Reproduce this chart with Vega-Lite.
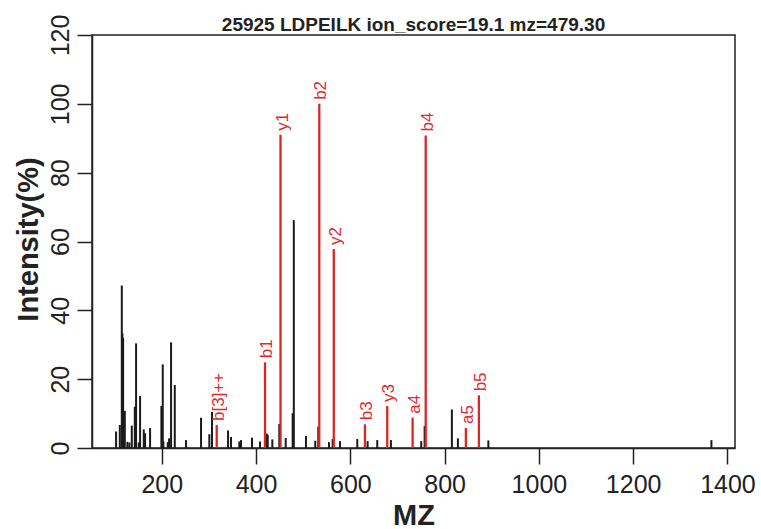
{
  "$schema": "https://vega.github.io/schema/vega-lite/v6.json",
  "autosize": "none",
  "width": 643,
  "height": 413,
  "padding": {"left": 92, "top": 35, "right": 26, "bottom": 81},
  "background": "white",
  "config": {
    "font": "Liberation Sans",
    "view": {"stroke": "#222222", "strokeWidth": 1.5}
  },
  "title": {
    "text": "25925 LDPEILK ion_score=19.1 mz=479.30",
    "font": "Liberation Sans",
    "fontSize": 19,
    "fontWeight": "bold",
    "color": "#222222",
    "anchor": "middle",
    "baseline": "alphabetic",
    "offset": 7,
    "dy": 43
  },
  "datasets": {
    "peaks": [
      {"mz": 103.1, "inten": 4.8, "ion": ""},
      {"mz": 111.0, "inten": 6.7, "ion": ""},
      {"mz": 115.2, "inten": 47.2, "ion": ""},
      {"mz": 116.5, "inten": 33.3, "ion": ""},
      {"mz": 118.0, "inten": 32.0, "ion": ""},
      {"mz": 121.6, "inten": 10.8, "ion": ""},
      {"mz": 127.1, "inten": 1.8, "ion": ""},
      {"mz": 131.3, "inten": 1.6, "ion": ""},
      {"mz": 136.4, "inten": 6.5, "ion": ""},
      {"mz": 142.8, "inten": 12.0, "ion": ""},
      {"mz": 145.5, "inten": 30.4, "ion": ""},
      {"mz": 151.2, "inten": 1.6, "ion": ""},
      {"mz": 154.0, "inten": 15.1, "ion": ""},
      {"mz": 161.8, "inten": 5.4, "ion": ""},
      {"mz": 164.6, "inten": 4.3, "ion": ""},
      {"mz": 175.2, "inten": 5.8, "ion": ""},
      {"mz": 199.2, "inten": 12.2, "ion": ""},
      {"mz": 202.1, "inten": 24.3, "ion": ""},
      {"mz": 203.4, "inten": 1.9, "ion": ""},
      {"mz": 212.7, "inten": 1.7, "ion": ""},
      {"mz": 215.5, "inten": 2.8, "ion": ""},
      {"mz": 219.7, "inten": 30.7, "ion": ""},
      {"mz": 227.6, "inten": 18.3, "ion": ""},
      {"mz": 251.5, "inten": 2.3, "ion": ""},
      {"mz": 283.3, "inten": 8.8, "ion": ""},
      {"mz": 300.9, "inten": 4.0, "ion": ""},
      {"mz": 306.6, "inten": 10.5, "ion": ""},
      {"mz": 340.6, "inten": 5.1, "ion": ""},
      {"mz": 346.9, "inten": 3.2, "ion": ""},
      {"mz": 364.5, "inten": 1.9, "ion": ""},
      {"mz": 368.1, "inten": 2.3, "ion": ""},
      {"mz": 391.4, "inten": 3.0, "ion": ""},
      {"mz": 408.4, "inten": 1.9, "ion": ""},
      {"mz": 422.6, "inten": 4.2, "ion": ""},
      {"mz": 424.7, "inten": 3.8, "ion": ""},
      {"mz": 434.5, "inten": 2.5, "ion": ""},
      {"mz": 449.3, "inten": 7.0, "ion": ""},
      {"mz": 462.9, "inten": 2.9, "ion": ""},
      {"mz": 477.7, "inten": 10.1, "ion": ""},
      {"mz": 480.1, "inten": 66.2, "ion": ""},
      {"mz": 505.9, "inten": 3.5, "ion": ""},
      {"mz": 525.6, "inten": 2.1, "ion": ""},
      {"mz": 532.0, "inten": 6.2, "ion": ""},
      {"mz": 554.7, "inten": 1.7, "ion": ""},
      {"mz": 562.5, "inten": 2.6, "ion": ""},
      {"mz": 578.0, "inten": 2.0, "ion": ""},
      {"mz": 614.7, "inten": 2.6, "ion": ""},
      {"mz": 636.7, "inten": 2.0, "ion": ""},
      {"mz": 657.1, "inten": 2.3, "ion": ""},
      {"mz": 686.1, "inten": 2.3, "ion": ""},
      {"mz": 750.4, "inten": 2.0, "ion": ""},
      {"mz": 757.6, "inten": 6.4, "ion": ""},
      {"mz": 815.4, "inten": 11.2, "ion": ""},
      {"mz": 828.2, "inten": 2.8, "ion": ""},
      {"mz": 892.8, "inten": 2.2, "ion": ""},
      {"mz": 1366.0, "inten": 2.3, "ion": ""},
      {"mz": 316.6, "inten": 6.7, "ion": "b[3]++"},
      {"mz": 419.0, "inten": 24.9, "ion": "b1"},
      {"mz": 451.9, "inten": 91.0, "ion": "y1"},
      {"mz": 534.1, "inten": 100.0, "ion": "b2"},
      {"mz": 564.9, "inten": 57.8, "ion": "y2"},
      {"mz": 631.0, "inten": 6.9, "ion": "b3"},
      {"mz": 678.3, "inten": 12.2, "ion": "y3"},
      {"mz": 732.1, "inten": 8.8, "ion": "a4"},
      {"mz": 759.9, "inten": 90.8, "ion": "b4"},
      {"mz": 845.1, "inten": 5.8, "ion": "a5"},
      {"mz": 872.7, "inten": 15.3, "ion": "b5"}
    ]
  },
  "data": {"name": "peaks"},
  "encoding": {
    "x": {
      "field": "mz",
      "type": "quantitative",
      "scale": {"domain": [52, 1416], "nice": false, "zero": false},
      "axis": {
        "values": [200, 400, 600, 800, 1000, 1200, 1400],
        "format": "d",
        "grid": false,
        "domainColor": "#222222",
        "domainWidth": 1.5,
        "tickColor": "#222222",
        "tickWidth": 1.5,
        "tickSize": 16,
        "labelFontSize": 25,
        "labelColor": "#222222",
        "labelBaseline": "alphabetic",
        "labelPadding": 28,
        "labelFlush": false,
        "labelOverlap": false,
        "title": "MZ",
        "titleFontSize": 29,
        "titleFontWeight": "bold",
        "titleColor": "#222222",
        "titleX": 321.5,
        "titleY": 76,
        "titleAlign": "center",
        "titleBaseline": "alphabetic"
      }
    },
    "y": {
      "field": "inten",
      "type": "quantitative",
      "scale": {"domain": [0, 120], "nice": false},
      "axis": {
        "values": [0, 20, 40, 60, 80, 100, 120],
        "grid": false,
        "domainColor": "#222222",
        "domainWidth": 1.5,
        "tickColor": "#222222",
        "tickWidth": 1.5,
        "tickSize": 15,
        "labelFontSize": 25,
        "labelColor": "#222222",
        "labelAngle": 270,
        "labelAlign": "center",
        "labelBaseline": "alphabetic",
        "labelPadding": 9,
        "labelFlush": false,
        "labelOverlap": false,
        "title": "Intensity(%)",
        "titleFontSize": 29,
        "titleFontWeight": "bold",
        "titleColor": "#222222",
        "titleAngle": 270,
        "titleX": -55,
        "titleY": 204,
        "titleAlign": "center",
        "titleBaseline": "alphabetic"
      }
    }
  },
  "layer": [
    {
      "transform": [{"filter": "datum.ion === ''"}],
      "mark": {"type": "rule", "color": "#1a1a1a", "strokeWidth": 2},
      "encoding": {"y2": {"datum": 0}}
    },
    {
      "transform": [{"filter": "datum.ion !== ''"}],
      "mark": {"type": "rule", "color": "#DC2626", "strokeWidth": 2.3},
      "encoding": {"y2": {"datum": 0}}
    },
    {
      "transform": [{"filter": "datum.ion !== ''"}],
      "mark": {
        "type": "text",
        "angle": 270,
        "align": "left",
        "baseline": "middle",
        "dx": 4,
        "dy": 2,
        "fontSize": 17,
        "color": "#E0282E"
      },
      "encoding": {"text": {"field": "ion"}}
    }
  ]
}
